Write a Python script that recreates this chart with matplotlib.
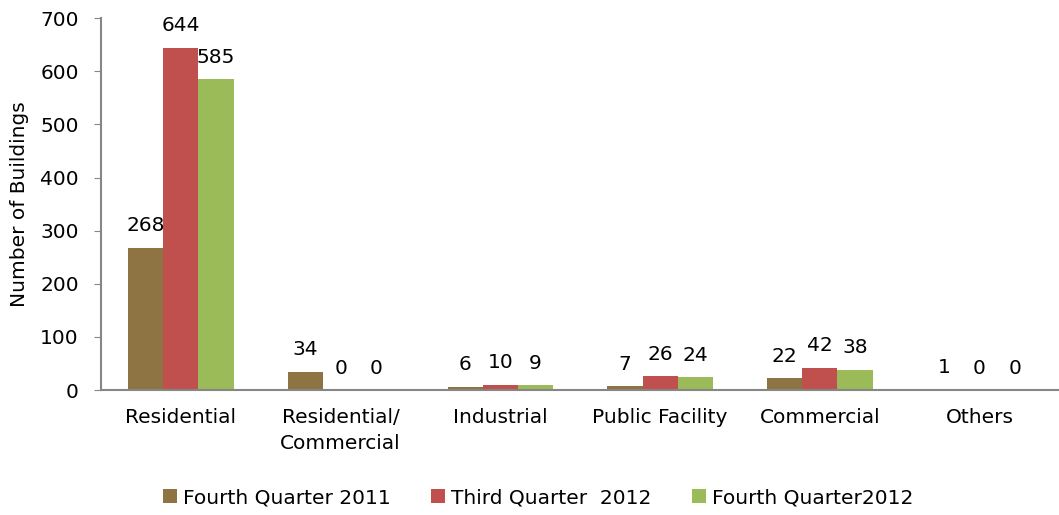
import matplotlib
matplotlib.use("Agg")
import matplotlib.pyplot as plt
import numpy as np

categories = ["Residential", "Residential/\nCommercial", "Industrial",
              "Public Facility", "Commercial", "Others"]
series_names = ["Fourth Quarter 2011", "Third Quarter  2012", "Fourth Quarter2012"]
q4_2011 = [268, 34, 6, 7, 22, 1]
q3_2012 = [644, 0, 10, 26, 42, 0]
q4_2012 = [585, 0, 9, 24, 38, 0]
colors = ["#8E7442", "#C0504D", "#9BBB59"]

fs = 14.5
plt.rcParams['font.family'] = ['DejaVu Sans']
plt.rcParams['font.size'] = fs

fig = plt.figure(figsize=(10.59, 5.15), dpi=100)
ax = fig.add_axes([0.0954, 0.2427, 0.905, 0.722])

x = np.arange(len(categories))
width = 0.22
allSeries = [q4_2011, q3_2012, q4_2012]
for i, (vals, name, col) in enumerate(zip(allSeries, series_names, colors)):
    pos = x + (i - 1) * width
    ax.bar(pos, vals, width, color=col, label=name)
    for p, v in zip(pos, vals):
        ax.annotate(str(v), (p, v), xytext=(0, 9), textcoords="offset points",
                    ha="center", va="bottom", fontsize=fs)

ax.set_xlim(-0.5, len(categories) - 0.5)
ax.set_ylim(0, 700)
ax.set_yticks(range(0, 701, 100))
ax.set_xticks(x)
ax.set_xticklabels(categories, va="top", linespacing=1.45)
ax.tick_params(axis="x", length=0, pad=13)
ax.tick_params(axis="y", length=5, color="#868686", pad=11)
for s in ["top", "right"]:
    ax.spines[s].set_visible(False)
for s in ["left", "bottom"]:
    ax.spines[s].set_color("#868686")
    ax.spines[s].set_linewidth(1.5)
ax.set_ylabel("Number of Buildings", fontsize=fs, labelpad=8)

fig.legend(loc="lower center", ncol=3, frameon=False, bbox_to_anchor=(0.508, -0.02),
           handlelength=0.7, handleheight=0.7, handletextpad=0.3, columnspacing=2.0,
           fontsize=fs)

fig.savefig("out.png", dpi=100)
